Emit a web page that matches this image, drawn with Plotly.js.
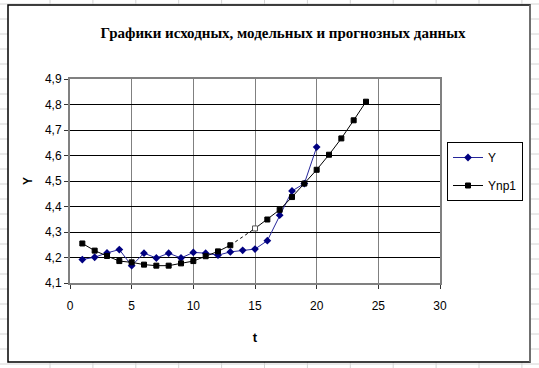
<!DOCTYPE html>
<html>
<head>
<meta charset="utf-8">
<script src="https://cdn.plot.ly/plotly-3.0.1.min.js"></script>
<style>
  html, body { margin: 0; padding: 0; background: #ffffff; }
  #chart { width: 539px; height: 368px; }
</style>
</head>
<body>
<div id="chart"></div>
<script>
// ---- data ----
const tY = [1,2,3,4,5,6,7,8,9,10,11,12,13,14,15,16,17,18,19,20];
const Y = [4.192,4.201,4.218,4.231,4.168,4.217,4.198,4.217,4.198,4.220,
           4.217,4.209,4.222,4.228,4.233,4.266,4.366,4.461,4.490,4.633];
const tP = [1,2,3,4,5,6,7,8,9,10,11,12,13,14,15,16,17,18,19,20,21,22,23,24];
const Ynp1 = [4.255,4.227,4.206,4.186,4.181,4.172,4.168,4.168,4.177,4.186,
              4.205,4.224,4.248,4.282,4.314,4.349,4.387,4.437,4.490,4.544,
              4.603,4.667,4.738,4.811];
const seriesNames = ['Y', 'Ynp1'];
const titleText = 'Графики исходных, модельных и прогнозных данных';
const xTitle = 't';
const yTitle = 'Y';

// ---- geometry helpers (pixel -> paper) ----
const L = 70, R = 440, T = 79, B = 283;
const px = x => (x - L) / (R - L);
const py = y => (B - y) / (B - T);

// Ynp1: the point at t=14 is drawn without marker; segment 13-15 dashed
const hiddenT = 14, hollowT = 15;
const ynpMain = Ynp1.map((v, i) => tP[i] === hiddenT ? null : v);
const dashIdx = tP.map((t, i) => i).filter(i => tP[i] >= 13 && tP[i] <= 15);
const mColors = tP.map(t => t === hollowT ? '#ffffff' : '#000000');
const mLineColors = tP.map(t => t === hollowT ? '#555555' : '#000000');

const traces = [
  {
    x: tY, y: Y, name: seriesNames[0], type: 'scatter', mode: 'lines+markers',
    legendgroup: 'a',
    line: {color: '#26269a', width: 1},
    marker: {symbol: 'diamond', size: 6, color: '#000080'}
  },
  {
    x: tP, y: ynpMain, name: seriesNames[1], type: 'scatter', mode: 'lines+markers',
    legendgroup: 'b', connectgaps: false,
    line: {color: '#000000', width: 1},
    marker: {symbol: 'square', size: 5, color: mColors,
             line: {color: mLineColors, width: 1}}
  },
  {
    x: dashIdx.map(i => tP[i]), y: dashIdx.map(i => Ynp1[i]),
    type: 'scatter', mode: 'lines', showlegend: false, hoverinfo: 'skip',
    legendgroup: 'b',
    line: {color: '#000000', width: 1, dash: '3px,3px'}
  }
];

// Spreadsheet cell grid outside the chart area + chart area box
const shapes = [];
for (let k = 0; k < 12; k++) {
  const x = 50 + 42.9 * k;
  shapes.push({type: 'line', xref: 'paper', yref: 'paper', layer: 'below',
    x0: px(x), x1: px(x), y0: py(0), y1: py(368),
    line: {color: '#d4d4d4', width: 1}});
}
for (let k = 0; k < 25; k++) {
  const y = 4 + 15 * k;
  shapes.push({type: 'line', xref: 'paper', yref: 'paper', layer: 'below',
    x0: px(0), x1: px(539), y0: py(y), y1: py(y),
    line: {color: '#d4d4d4', width: 1}});
}
shapes.push({type: 'rect', xref: 'paper', yref: 'paper', layer: 'below',
  x0: px(8), x1: px(530), y0: py(362), y1: py(5),
  fillcolor: '#ffffff', line: {color: '#000000', width: 1.5}});
shapes.push({type: 'line', xref: 'paper', yref: 'paper', layer: 'below',
  x0: px(530), x1: px(530), y0: py(362), y1: py(5),
  line: {color: '#808080', width: 1.5}});

const layout = {
  width: 539, height: 368,
  margin: {l: L, r: 539 - R, t: T, b: 368 - B, pad: 0},
  paper_bgcolor: '#ffffff', plot_bgcolor: '#ffffff',
  separators: ', ',
  showlegend: true,
  font: {family: 'Liberation Sans, Arial, sans-serif', size: 12, color: '#000'},
  title: {
    text: titleText, xref: 'container', yref: 'container',
    x: 283 / 539, y: 1 - 33 / 368, xanchor: 'center', yanchor: 'middle',
    font: {family: 'Liberation Serif, Times New Roman, serif', size: 15, weight: 'bold', color: '#000'}
  },
  xaxis: {
    range: [0, 30], dtick: 5, tick0: 0,
    showgrid: true, gridcolor: '#808080', gridwidth: 1,
    zeroline: false, showline: true, mirror: true,
    linecolor: '#808080', linewidth: 2,
    ticks: 'outside', ticklen: 4, tickcolor: '#333',
    ticklabelstandoff: 7,
    tickfont: {size: 12},
    title: {text: xTitle, standoff: 20, font: {size: 13, weight: 'bold'}}
  },
  yaxis: {
    range: [4.1, 4.9], dtick: 0.1, tick0: 4.1, tickformat: '.1f',
    showgrid: true, gridcolor: '#000000', gridwidth: 1,
    zeroline: false, showline: true, mirror: true,
    linecolor: '#808080', linewidth: 2,
    ticks: 'outside', ticklen: 4, tickcolor: '#333',
    tickfont: {size: 12},
    title: {text: yTitle, standoff: 10, font: {size: 12, weight: 'bold'}}
  },
  legend: {
    x: px(447), y: py(142), xanchor: 'left', yanchor: 'top',
    bgcolor: '#ffffff', bordercolor: '#000000', borderwidth: 1,
    font: {size: 12}, tracegroupgap: 9, itemwidth: 30,
    traceorder: 'grouped'
  },
  shapes: shapes
};

Plotly.newPlot('chart', traces, layout, {staticPlot: true, displayModeBar: false});
</script>
</body>
</html>
